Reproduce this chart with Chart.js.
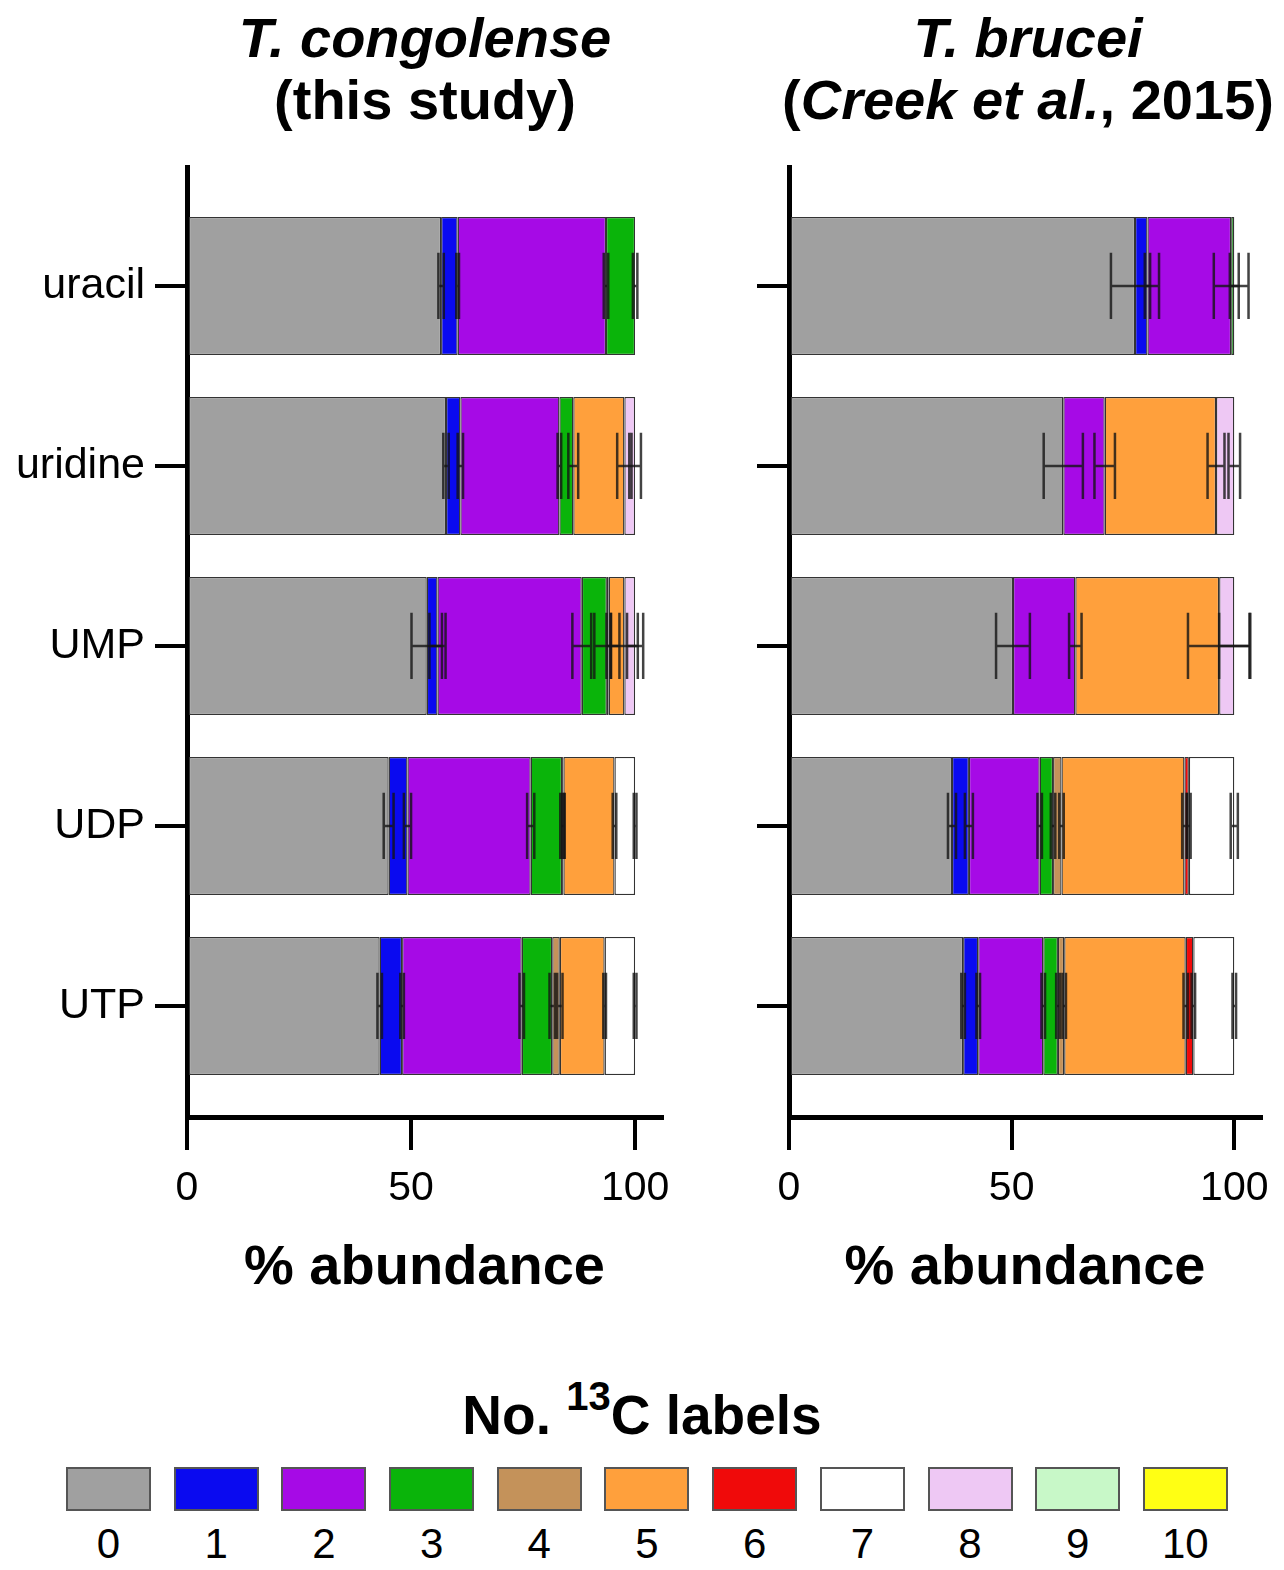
<!DOCTYPE html>
<html>
<head>
<meta charset="utf-8">
<script src="https://cdn.jsdelivr.net/npm/chart.js@4.4.1/dist/chart.umd.min.js"></script>
<style>
  html, body { margin: 0; padding: 0; background: #fff; overflow: hidden; }
  body { width: 1284px; height: 1570px; position: relative; font-family: "Liberation Sans", Arial, sans-serif; color: #000; }
  .title { position: absolute; top: 7px; width: 600px; text-align: center; font-weight: bold; font-size: 56px; line-height: 62px; white-space: nowrap; }
  canvas { position: absolute; top: 150px; }
  #legendTitle { position: absolute; left: 0; width: 1284px; top: 1385px; text-align: center; font-weight: bold; font-size: 55px; line-height: 60px; }
  #legendTitle sup { font-size: 40px; vertical-align: 0; position: relative; top: -24px; }
  #legendBoxes { position: absolute; left: 66px; top: 1467px; display: grid; grid-template-columns: repeat(11, 85px); column-gap: 22.7px; }
  .swatch { height: 44px; border: 2px solid #555; box-sizing: border-box; }
  .lbl { font-size: 42px; text-align: center; margin-top: 9px; line-height: 48px; }
</style>
</head>
<body>
<div class="title" style="left:125px"><i>T. congolense</i><br>(this study)</div>
<div class="title" style="left:728px"><i>T. brucei</i><br>(<i>Creek et al.</i>, 2015)</div>
<canvas id="congolenseChart" width="690" height="1152" style="left:0"></canvas>
<canvas id="bruceiChart" width="584" height="1152" style="left:700px"></canvas>
<div id="legendTitle">No. <sup>13</sup>C labels</div>
<div id="legendBoxes"></div>
<script>
// metabolites (top to bottom)
const categories = ['uracil', 'uridine', 'UMP', 'UDP', 'UTP'];
// number of 13C labels and their colours
const labelCounts = ['0', '1', '2', '3', '4', '5', '6', '7', '8', '9', '10'];
const labelColours = ['#a0a0a0', '#0a0af0', '#a60ae6', '#0ab40a', '#c4925a', '#ffa03c',
  '#f00a0a', '#ffffff', '#eec8f4', '#c8f8c8', '#ffff14'];
const xTicks = [0, 50, 100];

// T. congolense, % abundance per label count (rows: 0..10 labels, cols: categories)
const congolensePct = [
  [56.7, 57.8, 53.5, 45.0, 43.0],
  [3.7, 3.2, 2.4, 4.2, 5.0],
  [33.1, 22.1, 32.2, 27.5, 26.7],
  [6.5, 3.1, 5.6, 7.0, 6.8],
  [0, 0, 0.4, 0.3, 1.7],
  [0, 11.4, 3.5, 11.4, 10.0],
  [0, 0, 0, 0, 0],
  [0, 0, 0, 4.6, 6.8],
  [0, 2.4, 2.4, 0, 0],
  [0, 0, 0, 0, 0],
  [0, 0, 0, 0, 0],
];
const congolenseErr = [
  [0.6, 0.6, 3.4, 1.1, 0.5],
  [0.3, 0.6, 1.8, 0.8, 0.4],
  [0.5, 0.4, 2.1, 0.8, 0.5],
  [0.5, 1.1, 2.8, 0.4, 0.6],
  [0, 0, 0.5, 0.3, 0.6],
  [0, 1.6, 3.0, 0.4, 0.3],
  [0, 0, 0, 0, 0],
  [0, 0, 0, 0.3, 0.3],
  [0, 1.3, 1.8, 0, 0],
  [0, 0, 0, 0, 0],
  [0, 0, 0, 0, 0],
];

// T. brucei (Creek et al., 2015)
const bruceiPct = [
  [77.7, 61.6, 50.3, 36.6, 39.1],
  [2.8, 0, 0, 3.8, 3.4],
  [18.8, 9.3, 14.0, 15.9, 14.6],
  [0.7, 0, 0, 3.0, 3.3],
  [0, 0, 0, 1.9, 1.4],
  [0, 25.0, 32.3, 27.6, 27.3],
  [0, 0, 0, 1.0, 1.7],
  [0, 0, 0, 10.2, 9.2],
  [0, 4.1, 3.4, 0, 0],
  [0, 0, 0, 0, 0],
  [0, 0, 0, 0, 0],
];
const bruceiErr = [
  [5.4, 4.4, 3.8, 0.9, 0.4],
  [0.6, 0, 0, 0.9, 0.4],
  [3.9, 2.3, 1.4, 0.5, 0.4],
  [1.0, 0, 0, 0.5, 0.4],
  [0, 0, 0, 0.5, 0.4],
  [0, 1.9, 7.0, 0.5, 0.5],
  [0, 0, 0, 0.4, 0.4],
  [0, 0, 0, 0.8, 0.4],
  [0, 1.3, 3.4, 0, 0],
  [0, 0, 0, 0, 0],
  [0, 0, 0, 0, 0],
];

Chart.defaults.font.family = "'Liberation Sans', Arial, sans-serif";
Chart.defaults.color = '#000';

// error bar at the end of each segment
const errorBars = {
  id: 'errorBars',
  afterDatasetsDraw(chart) {
    const ctx = chart.ctx;
    const xs = chart.scales.x;
    ctx.save();
    ctx.strokeStyle = 'rgba(20,20,20,0.8)';
    ctx.lineWidth = 2.5;
    chart.data.datasets.forEach((ds, d) => {
      const meta = chart.getDatasetMeta(d);
      meta.data.forEach((bar, i) => {
        const err = ds.errors[i];
        if (!ds.data[i].x || !err) return;
        const half = xs.getPixelForValue(err) - xs.getPixelForValue(0);
        const cap = bar.height * 0.24;
        ctx.beginPath();
        ctx.moveTo(bar.x - half, bar.y);
        ctx.lineTo(bar.x + half, bar.y);
        ctx.moveTo(bar.x - half, bar.y - cap);
        ctx.lineTo(bar.x - half, bar.y + cap);
        ctx.moveTo(bar.x + half, bar.y - cap);
        ctx.lineTo(bar.x + half, bar.y + cap);
        ctx.stroke();
      });
    });
    ctx.restore();
  }
};

const createChart = (id, pct, err, yWidth, rightPad, showNames) => {
  new Chart(document.getElementById(id), {
    type: 'bar',
    data: {
      datasets: labelCounts.map((lab, k) => ({
        label: lab,
        data: pct[k].map((v, i) => ({ x: v, y: i })),
        errors: err[k],
        backgroundColor: labelColours[k],
        borderColor: '#333',
        borderWidth: 1.3,
        borderSkipped: false,
        barPercentage: 0.767,
        categoryPercentage: 1,
      })),
    },
    options: {
      indexAxis: 'y',
      responsive: false,
      animation: false,
      layout: { padding: { top: 17, right: rightPad, left: 0, bottom: 0 } },
      plugins: { legend: { display: false }, tooltip: { enabled: false } },
      scales: {
        x: {
          type: 'linear', min: 0, max: 106, stacked: true, offset: false,
          afterBuildTicks: (s) => { s.ticks = xTicks.map((v) => ({ value: v })); },
          afterFit: (s) => { s.height = 185; s.paddingLeft = 0; s.paddingRight = 0; },
          ticks: { font: { size: 41 }, color: '#000', padding: 14, maxRotation: 0 },
          grid: { drawOnChartArea: false, offset: false, tickLength: 33, lineWidth: 4, color: '#000' },
          border: { width: 5, color: '#000' },
          title: { display: true, text: '% abundance', font: { size: 56, weight: 'bold' }, color: '#000', padding: { top: 0, bottom: 0 } },
        },
        y: {
          type: 'linear', reverse: true, min: -0.661, max: 4.617, stacked: true, offset: false, bounds: 'data',
          afterBuildTicks: (s) => { s.ticks = categories.map((c, i) => ({ value: i })); },
          afterFit: (s) => { s.width = yWidth; s.paddingTop = 0; s.paddingBottom = 0; },
          ticks: { callback: (v) => (showNames ? categories[v] : ''), font: { size: 43 }, color: '#000', padding: 10 },
          grid: { drawOnChartArea: false, offset: false, tickLength: 32, lineWidth: 4, color: '#000' },
          border: { width: 5, color: '#000' },
        },
      },
    },
    plugins: [errorBars],
  });
};

createChart('congolenseChart', congolensePct, congolenseErr, 187, 28, true);
createChart('bruceiChart', bruceiPct, bruceiErr, 89, 23, false);

// legend
const legendBox = document.getElementById('legendBoxes');
labelCounts.forEach((lab, k) => {
  const item = document.createElement('div');
  const sw = document.createElement('div');
  sw.className = 'swatch';
  sw.style.background = labelColours[k];
  const t = document.createElement('div');
  t.className = 'lbl';
  t.textContent = lab;
  item.appendChild(sw);
  item.appendChild(t);
  legendBox.appendChild(item);
});
</script>
</body>
</html>
